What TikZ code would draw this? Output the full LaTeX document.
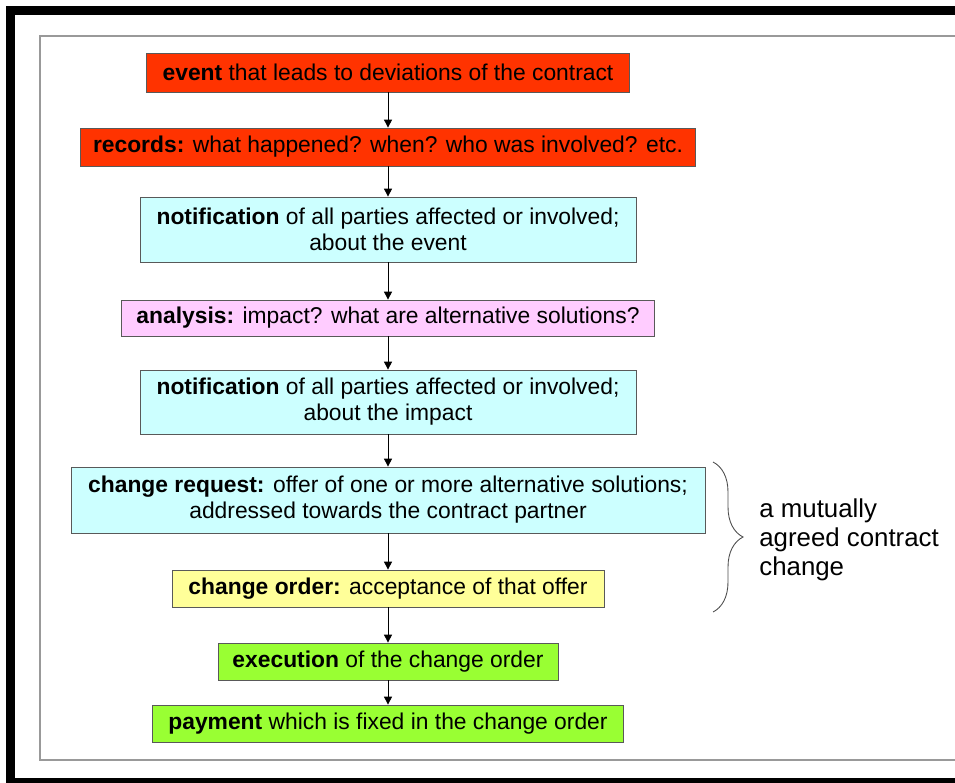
\documentclass[tikz,border=0pt]{standalone}
\usepackage{fontspec}
\setmainfont{Liberation Sans}
\usetikzlibrary{arrows.meta,decorations.pathreplacing}
\definecolor{evred}{HTML}{FF3300}
\definecolor{ltcyan}{HTML}{CCFFFF}
\definecolor{ltpink}{HTML}{FFCCFF}
\definecolor{ltyellow}{HTML}{FFFF99}
\definecolor{ltgreen}{HTML}{99FF33}
\begin{document}
\begin{tikzpicture}[x=0.02cm,y=-0.02cm,
  stage/.style={draw=gray!70!black,line width=0.45pt,inner sep=0pt,align=center,font=\fontsize{13}{14.8}\selectfont},
  flow/.style={-{Triangle[length=4.5pt,width=4.5pt]},line width=0.5pt}]
\useasboundingbox (0,0) rectangle (955,782);
\draw[line width=0.18cm] (10.5,10) rectangle (975,782.5);
\draw[gray!80,line width=0.04cm] (40,36) rectangle (985,760);
\node[stage,fill=evred,minimum width=9.66cm,minimum height=0.78cm] (event) at (388,72.5) {\textbf{event} that leads to deviations of the contract};
\node[stage,fill=evred,minimum width=12.3cm,minimum height=0.76cm] (records) at (388,147) {\textbf{records:} what happened? when? who was involved? etc.};
\node[stage,fill=ltcyan,minimum width=9.92cm,minimum height=1.3cm] (notevent) at (388,229.5) {\textbf{notification} of all parties affected or involved;\\about the event};
\node[stage,fill=ltpink,minimum width=10.66cm,minimum height=0.72cm] (analysis) at (388,318) {\textbf{analysis:} impact? what are alternative solutions?};
\node[stage,fill=ltcyan,minimum width=9.92cm,minimum height=1.28cm] (notimpact) at (388,402) {\textbf{notification} of all parties affected or involved;\\about the impact};
\node[stage,fill=ltcyan,minimum width=12.68cm,minimum height=1.32cm] (request) at (388,500) {\textbf{change request:} offer of one or more alternative solutions;\\addressed towards the contract partner};
\node[stage,fill=ltyellow,minimum width=8.64cm,minimum height=0.74cm] (order) at (388,588.5) {\textbf{change order:} acceptance of that offer};
\node[stage,fill=ltgreen,minimum width=6.8cm,minimum height=0.74cm] (execution) at (388,661.5) {\textbf{execution} of the change order};
\node[stage,fill=ltgreen,minimum width=9.42cm,minimum height=0.74cm] (payment) at (388,723.5) {\textbf{payment} which is fixed in the change order};
\foreach \a/\b in {event/records,records/notevent,notevent/analysis,analysis/notimpact,notimpact/request,request/order,order/execution,execution/payment}
{ \draw[flow] (\a.south) -- (\b.north); }
\coordinate (bracetop) at (713,462);
\coordinate (bracebot) at (713,612);
\draw[black!70,line width=0.5pt,decorate,decoration={brace,amplitude=0.6cm}] (bracetop) -- (bracebot);
\node[anchor=west,align=left,inner sep=0pt,font=\fontsize{14.7}{16.5}\selectfont] (agreed) at (759,540) {a mutually\\agreed contract\\change};
\end{tikzpicture}
\end{document}
